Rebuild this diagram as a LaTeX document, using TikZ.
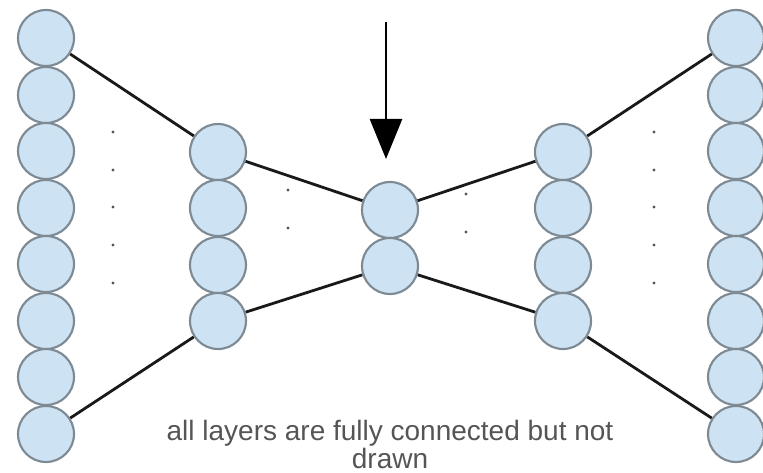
\documentclass[tikz,border=0pt]{standalone}
\usepackage{fontspec}
\setmainfont{Liberation Sans}
\usetikzlibrary{arrows.meta}
\definecolor{mylightblue}{RGB}{205,226,242}
\definecolor{myrim}{RGB}{125,138,148}
\definecolor{mygrey}{RGB}{85,85,85}
\tikzstyle{neuron}=[draw=myrim,fill=mylightblue,circle,line width=1.6pt,minimum size=42pt,inner sep=0pt]
\tikzstyle{link}=[line width=2.1pt,black!90]
\tikzstyle{dot}=[fill=mygrey]

\begin{document}
\begin{tikzpicture}[x=0.75pt,y=-0.75pt]
\useasboundingbox (0,0) rectangle (763,473);
% outer layers
\foreach \i/\y in {1/38,2/95,3/151,4/208,5/264,6/321,7/377,8/434}{
  \draw (46,\y) node [neuron] (a\i) {};
  \draw (736,\y) node [neuron] (e\i) {};
}
% hidden layers
\foreach \i/\y in {1/152,2/208,3/265,4/321}{
  \draw (218,\y) node [neuron] (b\i) {};
  \draw (563,\y) node [neuron] (d\i) {};
}
\draw (390,210) node [neuron] (c1) {};
\draw (390,266) node [neuron] (c2) {};
% connections
\draw[link] (a1) -- (b1);
\draw[link] (a8) -- (b4);
\draw[link] (b1) -- (c1);
\draw[link] (b4) -- (c2);
\draw[link] (c1) -- (d1);
\draw[link] (c2) -- (d4);
\draw[link] (d1) -- (e1);
\draw[link] (d4) -- (e8);
% dots
\foreach \y in {132,170,207,245,283}{
  \fill[dot] (113,\y) circle (1.7);
  \fill[dot] (654,\y) circle (1.7);
}
\foreach \y in {190,228}{
  \fill[dot] (288,\y) circle (1.7);
}
\foreach \y in {194,232}{
  \fill[dot] (466,\y) circle (1.7);
}
% arrow into the bottleneck
\coordinate (top) at (386,22);
\coordinate (tip) at (386,159);
\draw[line width=2pt,-{Triangle[length=30pt,width=24pt]}] (top) -- (tip);
% note
\node[text=mygrey,font=\fontsize{21}{21}\selectfont,align=center] (note) at (390,444)
  {all layers are fully connected but not\\drawn};
\end{tikzpicture}
\end{document}
